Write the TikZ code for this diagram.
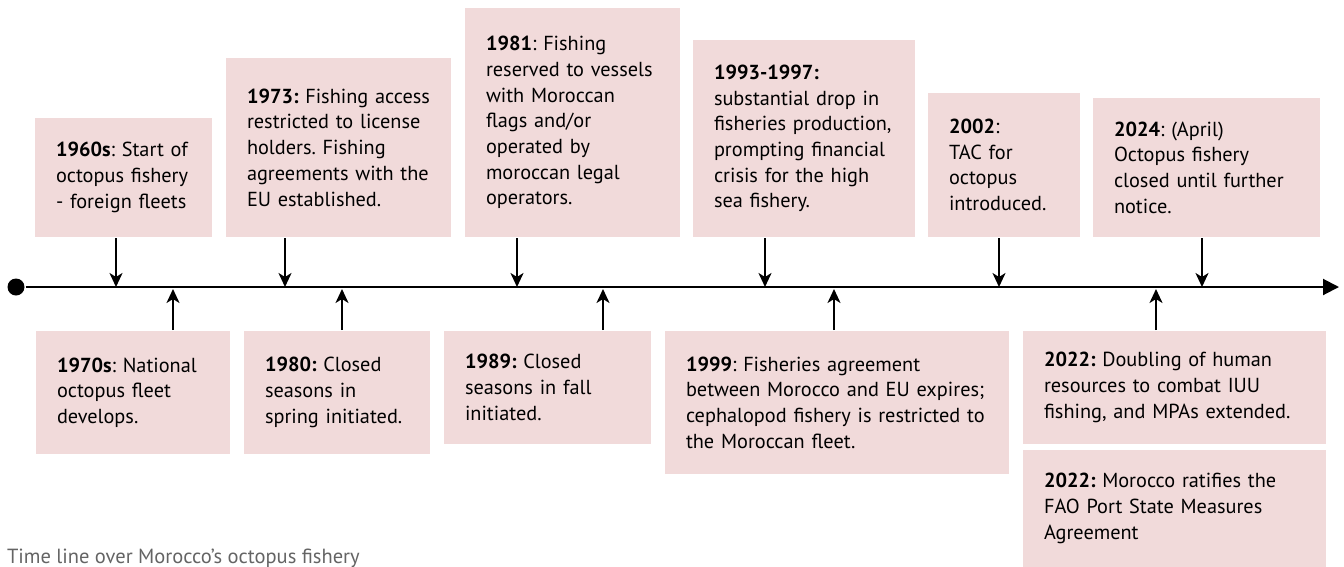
\documentclass[tikz,border=0pt]{standalone}
\usepackage{fontspec}
\setmainfont{PT Sans}
\usetikzlibrary{arrows.meta,positioning}
\definecolor{boxpink}{RGB}{241,218,218}
\definecolor{capgray}{RGB}{100,100,100}
\frenchspacing

\begin{document}
\begin{tikzpicture}[x=1pt, y=-1pt, >={Stealth[length=14pt,width=13pt,inset=4pt]}, line width=2pt]
    % Styles
    \tikzstyle{event} = [rectangle, fill=boxpink, anchor=north west, align=left, inner xsep=21pt, inner ysep=0pt, font=\fontsize{20.3}{25.7}\selectfont]
    \tikzstyle{tick} = [draw, ->]
    \tikzstyle{dot} = [circle, fill=black, minimum size=17pt, inner sep=0pt]

    \useasboundingbox (0,0) rectangle (1344,566);

    % Timeline
    \coordinate (tend) at (1339,287);
    \node [dot] (origin) at (16,287) {};
    \draw [-{Triangle[length=16pt,width=16pt]}] (origin) -- (tend);

    % Points on the timeline
    \coordinate (e1960) at (116,287);
    \coordinate (e1970) at (173,287);
    \coordinate (e1973) at (285,287);
    \coordinate (e1980) at (342,287);
    \coordinate (e1981) at (517,287);
    \coordinate (e1989) at (603,287);
    \coordinate (e1993) at (765,287);
    \coordinate (e1999) at (834,287);
    \coordinate (e2002) at (999,287);
    \coordinate (e2022) at (1156,287);
    \coordinate (e2024) at (1202,287);

    % Events above
    \node [event, text width=135pt, minimum height=119pt] (b1960) at (34,117) {\textbf{1960s}: Start of\\octopus fishery\\- foreign fleets};
    \node [event, text width=183pt, minimum height=179pt] (b1973) at (225,57) {\textbf{1973:} Fishing access\\restricted to license\\holders. Fishing\\agreements with the\\EU established.};
    \node [event, text width=173pt, minimum height=229pt] (b1981) at (464,7) {\textbf{1981}: Fishing\\reserved to vessels\\with Moroccan\\flags and/or\\operated by\\moroccan legal\\operators.};
    \node [event, text width=180pt, minimum height=197pt] (b1993) at (692,39) {\textbf{1993-1997:}\\substantial drop in\\fisheries production,\\prompting financial\\crisis for the high\\sea fishery.};
    \node [event, text width=110pt, minimum height=144pt] (b2002) at (927,92) {\textbf{2002}:\\TAC for\\octopus\\introduced.};
    \node [event, text width=185pt, minimum height=139pt] (b2024) at (1092,97) {\textbf{2024}: (April)\\Octopus fishery\\closed until further\\notice.};

    % Events below
    \node [event, text width=152pt, minimum height=123pt] (b1970) at (35,330) {\textbf{1970s}: National\\octopus fleet\\develops.};
    \node [event, text width=144pt, minimum height=123pt] (b1980) at (243,330) {\textbf{1980:} Closed\\seasons in\\spring initiated.};
    \node [event, text width=165pt, minimum height=113pt] (b1989) at (443,330) {\textbf{1989:} Closed\\seasons in fall\\initiated.};
    \node [event, text width=302pt, minimum height=143pt] (b1999) at (664,330) {\textbf{1999}: Fisheries agreement\\between Morocco and EU expires;\\cephalopod fishery is restricted to\\the Moroccan fleet.};
    \node [event, text width=261pt, minimum height=113pt] (b2022) at (1022,330) {\textbf{2022:} Doubling of human\\resources to combat IUU\\fishing, and MPAs extended.};
    \node [event, text width=261pt, minimum height=117pt] (b2022p) at (1022,449) {\textbf{2022:} Morocco ratifies the\\FAO Port State Measures\\Agreement};

    % Arrows down to the line
    \path [tick] (b1960.south -| e1960) -- (e1960);
    \path [tick] (b1973.south -| e1973) -- (e1973);
    \path [tick] (b1981.south -| e1981) -- (e1981);
    \path [tick] (b1993.south -| e1993) -- (e1993);
    \path [tick] (b2002.south -| e2002) -- (e2002);
    \path [tick] (b2024.south -| e2024) -- (e2024);

    % Arrows up to the line
    \path [tick, shorten >=2pt] (b1970.north -| e1970) -- (e1970);
    \path [tick, shorten >=2pt] (b1980.north -| e1980) -- (e1980);
    \path [tick, shorten >=2pt] (b1989.north -| e1989) -- (e1989);
    \path [tick, shorten >=2pt] (b1999.north -| e1999) -- (e1999);
    \path [tick, shorten >=2pt] (b2022.north -| e2022) -- (e2022);

    % Caption
    \node [anchor=base west, inner sep=0pt, text=capgray, font=\fontsize{20.5}{25.7}\selectfont] (caption) at (6,563) {Time line over Morocco’s octopus fishery};
\end{tikzpicture}
\end{document}
